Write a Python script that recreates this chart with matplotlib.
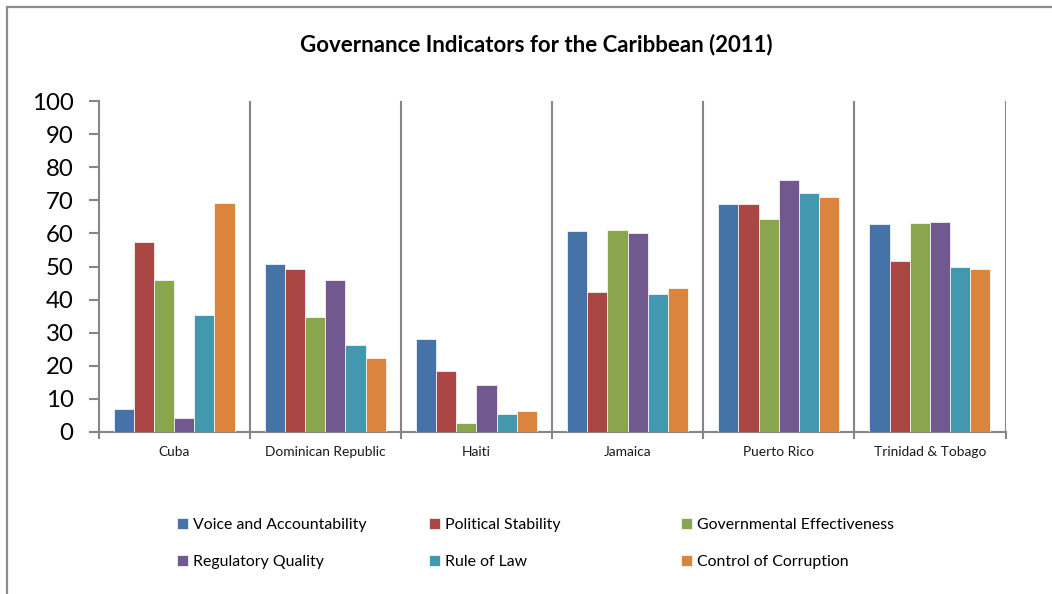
import matplotlib
matplotlib.use("Agg")
import matplotlib.pyplot as plt
from matplotlib.patches import Rectangle
import numpy as np

plt.rcParams['font.family'] = ['Lato', 'DejaVu Sans']

countries = ["Cuba", "Dominican Republic", "Haiti", "Jamaica", "Puerto Rico", "Trinidad & Tobago"]
series_names = ["Voice and Accountability", "Political Stability", "Governmental Effectiveness",
                "Regulatory Quality", "Rule of Law", "Control of Corruption"]
voice = [7.0, 50.7, 28.2, 60.8, 68.9, 62.7]
political = [57.4, 49.1, 18.3, 42.4, 68.8, 51.8]
government = [45.9, 34.6, 2.7, 60.9, 64.5, 63.0]
regulatory = [4.3, 45.9, 14.1, 60.1, 76.2, 63.4]
rule_of_law = [35.2, 26.2, 5.5, 41.8, 72.2, 49.7]
corruption = [69.1, 22.3, 6.2, 43.5, 71.1, 49.2]
yticks = [0, 10, 20, 30, 40, 50, 60, 70, 80, 90, 100]
title = "Governance Indicators for the Caribbean (2011)"

colors = ["#4572A7", "#AA4643", "#89A54E", "#71588F", "#4198AF", "#DB843D"]
series = [voice, political, government, regulatory, rule_of_law, corruption]

W, H = 1052, 594
fig = plt.figure(figsize=(W / 100, H / 100), dpi=100)
ax = fig.add_axes([98.5 / W, 1 - 432 / H, 907 / W, (432 - 101) / H])

n = len(series)
bw = 1 / 7.5
x = np.arange(len(countries))
bars = []
for i, (vals, c) in enumerate(zip(series, colors)):
    b = ax.bar(x + 0.5 + (i - (n - 1) / 2) * bw, vals, width=bw, color=c,
               edgecolor="white", linewidth=0.5, label=series_names[i], zorder=3)
    bars.append(b)

ax.set_xlim(0, len(countries))
ax.set_ylim(0, 100)
ax.set_yticks(yticks)
ax.set_yticklabels([str(t) for t in yticks], fontsize=17.3)
ax.set_xticks(x + 0.5)
ax.set_xticklabels(countries, fontsize=9.9, color="#1a1a1a")
ax.tick_params(axis='x', which='major', length=0, pad=10)
ax.set_xticks(np.arange(0, len(countries) + 1), minor=True)
ax.tick_params(axis='x', which='minor', length=5, width=1.5, color="#868686", direction='out')
ax.tick_params(axis='y', which='major', length=7, width=1.5, color="#868686", direction='out', pad=11)
for xv in range(1, len(countries) + 1):
    ax.axvline(xv, color="#868686", linewidth=1.5, zorder=1)
for s in ["top", "right"]:
    ax.spines[s].set_visible(False)
for s in ["left", "bottom"]:
    ax.spines[s].set_color("#868686")
    ax.spines[s].set_linewidth(1.5)

fig.text(536 / W, 1 - 45 / H, title, ha='center', va='center', fontsize=16, fontweight='bold')

# legend: three columns of two entries each
col_x = [177, 429, 681]
for j in range(3):
    fig.legend([bars[j], bars[j + 3]], [series_names[j], series_names[j + 3]],
               loc='upper left', bbox_to_anchor=(col_x[j] / W, 1 - 518 / H),
               frameon=False, fontsize=11.4, handlelength=0.72, handleheight=0.72,
               handletextpad=0.3, labelspacing=1.45, borderpad=0, borderaxespad=0)

fig.patches.append(Rectangle((6.5 / W, -1.0), 3.0, 2.0 - 6.5 / H,
                             transform=fig.transFigure, fill=False,
                             edgecolor="#8c8c8c", linewidth=1.6))

fig.savefig("out.png", dpi=100)
